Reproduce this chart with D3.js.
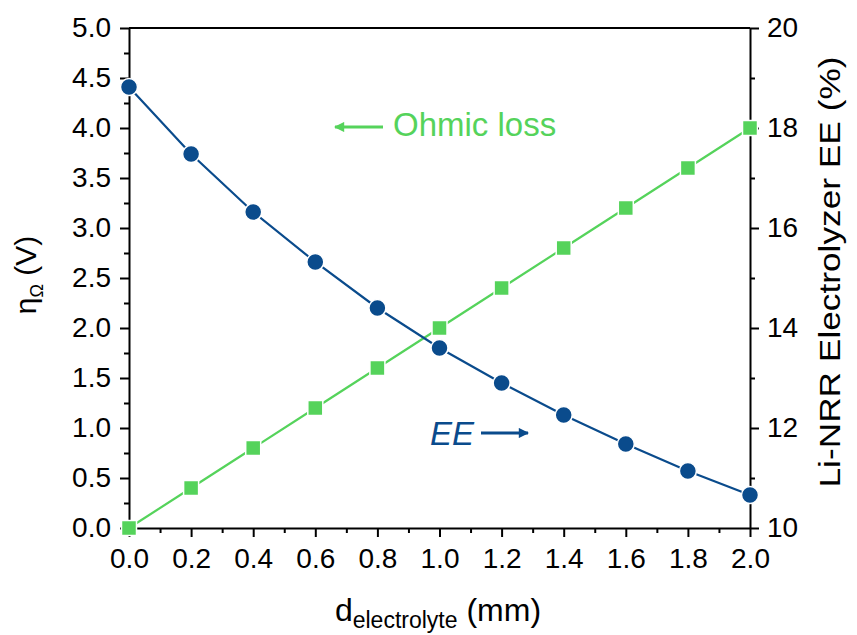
<!DOCTYPE html>
<html lang="en">
  <head>
    <meta charset="utf-8">
    <title>Ohmic loss and EE vs electrolyte thickness</title>
    <script src="https://d3js.org/d3.v7.min.js"></script>
    <style type="text/css">
      body, html {
        margin: 0;
        padding: 0;
        background: #fff;
        font-family: "Liberation Sans", Arial, sans-serif;
      }
      .axis text { font-size: 28px; fill: #000; font-family: "Liberation Sans", Arial, sans-serif; }
      .axis path, .axis line { stroke: #000; stroke-width: 2px; }
    </style>
  </head>
  <body>
    <script type="text/javascript">

      var w = 857;
      var h = 635;

      var margin = { top: 28, bottom: 107, left: 129, right: 107 };

      var width = w - margin.left - margin.right;
      var height = h - margin.top - margin.bottom;

      // data
      var thickness = [0.0, 0.2, 0.4, 0.6, 0.8, 1.0, 1.2, 1.4, 1.6, 1.8, 2.0];
      var ohmicLoss = [0.0, 0.4, 0.8, 1.2, 1.6, 2.0, 2.4, 2.8, 3.2, 3.6, 4.0];
      var efficiency = [18.82, 17.48, 16.32, 15.32, 14.40, 13.60, 12.90, 12.26, 11.68, 11.14, 10.66];

      var blue = "#0a4b8c";
      var green = "#55d35b";

      var svg = d3.select("body")
        .append("svg")
        .attr("width", w)
        .attr("height", h);

      var g = svg.append("g")
        .attr("transform", "translate(" + margin.left + "," + margin.top + ")");

      var x = d3.scaleLinear().domain([0, 2]).range([0, width]);
      var yLeft = d3.scaleLinear().domain([0, 5]).range([height, 0]);
      var yRight = d3.scaleLinear().domain([10, 20]).range([height, 0]);

      // minor ticks first
      g.append("g")
        .attr("class", "axis")
        .attr("transform", "translate(0," + height + ")")
        .call(d3.axisBottom(x).tickValues(d3.range(0.1, 2, 0.2)).tickSize(5).tickFormat(""))
        .select(".domain").remove();

      g.append("g")
        .attr("class", "axis")
        .call(d3.axisLeft(yLeft).tickValues(d3.range(0.25, 5, 0.5)).tickSize(5).tickFormat(""))
        .select(".domain").remove();

      g.append("g")
        .attr("class", "axis")
        .attr("transform", "translate(" + width + ",0)")
        .call(d3.axisRight(yRight).tickValues([11, 13, 15, 17, 19]).tickSize(5).tickFormat(""))
        .select(".domain").remove();

      // major axes
      g.append("g")
        .attr("class", "axis")
        .attr("transform", "translate(0," + height + ")")
        .call(d3.axisBottom(x).tickValues(d3.range(0, 2.01, 0.2)).tickSize(9).tickSizeOuter(0).tickPadding(11)
          .tickFormat(d3.format(".1f")));

      g.append("g")
        .attr("class", "axis")
        .call(d3.axisLeft(yLeft).tickValues(d3.range(0, 5.01, 0.5)).tickSize(9).tickSizeOuter(0).tickPadding(9)
          .tickFormat(d3.format(".1f")));

      g.append("g")
        .attr("class", "axis")
        .attr("transform", "translate(" + width + ",0)")
        .call(d3.axisRight(yRight).tickValues([10, 12, 14, 16, 18, 20]).tickSize(9).tickSizeOuter(0).tickPadding(8));

      // top frame line
      g.append("line")
        .attr("x1", 0).attr("x2", width)
        .attr("y1", 0).attr("y2", 0)
        .style("stroke", "#000").style("stroke-width", 2);

      // lines
      var ohmicLine = d3.line()
        .x(function(d, i) { return x(thickness[i]); })
        .y(function(d) { return yLeft(d); });

      var eeLine = d3.line()
        .x(function(d, i) { return x(thickness[i]); })
        .y(function(d) { return yRight(d); });

      g.append("path")
        .datum(ohmicLoss)
        .attr("d", ohmicLine)
        .style("fill", "none")
        .style("stroke", green)
        .style("stroke-width", 2.2);

      g.append("path")
        .datum(efficiency)
        .attr("d", eeLine)
        .style("fill", "none")
        .style("stroke", blue)
        .style("stroke-width", 2.2);

      // markers
      g.selectAll("rect.sq")
        .data(ohmicLoss)
        .enter()
        .append("rect")
        .attr("class", "sq")
        .attr("x", function(d, i) { return x(thickness[i]) - 7.5; })
        .attr("y", function(d) { return yLeft(d) - 7.5; })
        .attr("width", 15)
        .attr("height", 15)
        .style("fill", green)
        .style("stroke", "#fff")
        .style("stroke-width", 1.5);

      g.selectAll("circle.dot")
        .data(efficiency)
        .enter()
        .append("circle")
        .attr("class", "dot")
        .attr("cx", function(d, i) { return x(thickness[i]); })
        .attr("cy", function(d) { return yRight(d); })
        .attr("r", 8.5)
        .style("fill", blue)
        .style("stroke", "#fff")
        .style("stroke-width", 1.5);

      // annotations
      var defs = svg.append("defs");
      [["arrowGreen", green], ["arrowBlue", blue]].forEach(function(a) {
        defs.append("marker")
          .attr("id", a[0])
          .attr("viewBox", "0 0 10 10")
          .attr("refX", 9).attr("refY", 5)
          .attr("markerWidth", 6.8).attr("markerHeight", 3.4)
          .attr("orient", "auto")
          .attr("markerUnits", "strokeWidth")
          .append("path")
          .attr("d", "M0,0 L10,5 L0,10 z")
          .style("fill", a[1]);
      });

      svg.append("line")
        .attr("x1", 383).attr("y1", 127)
        .attr("x2", 335).attr("y2", 127)
        .style("stroke", green).style("stroke-width", 3)
        .attr("marker-end", "url(#arrowGreen)");

      svg.append("text")
        .attr("x", 393).attr("y", 136)
        .style("font-size", "33px")
        .style("fill", green)
        .text("Ohmic loss");

      svg.append("line")
        .attr("x1", 481).attr("y1", 433)
        .attr("x2", 528).attr("y2", 433)
        .style("stroke", blue).style("stroke-width", 3)
        .attr("marker-end", "url(#arrowBlue)");

      svg.append("text")
        .attr("x", 430).attr("y", 445)
        .style("font-size", "33px")
        .style("font-style", "italic")
        .style("fill", blue)
        .text("EE");

      // axis titles
      var xt = svg.append("text")
        .attr("x", 438)
        .attr("y", 621)
        .attr("text-anchor", "middle")
        .style("font-size", "32px");
      xt.append("tspan").text("d");
      xt.append("tspan").attr("dy", 7).style("font-size", "23px").text("electrolyte");
      xt.append("tspan").attr("dy", -7).text(" (mm)");

      var yt = svg.append("text")
        .attr("transform", "translate(36,275) rotate(-90)")
        .attr("text-anchor", "middle")
        .style("font-size", "30px");
      yt.append("tspan").text("η");
      yt.append("tspan").attr("dy", 7).style("font-size", "18px").text("Ω");
      yt.append("tspan").attr("dy", -7).text(" (V)");

      svg.append("text")
        .attr("transform", "translate(840,272) rotate(-90)")
        .attr("text-anchor", "middle")
        .attr("textLength", 431)
        .attr("lengthAdjust", "spacingAndGlyphs")
        .style("font-size", "30px")
        .text("Li-NRR Electrolyzer EE (%)");

    </script>
  </body>
</html>
